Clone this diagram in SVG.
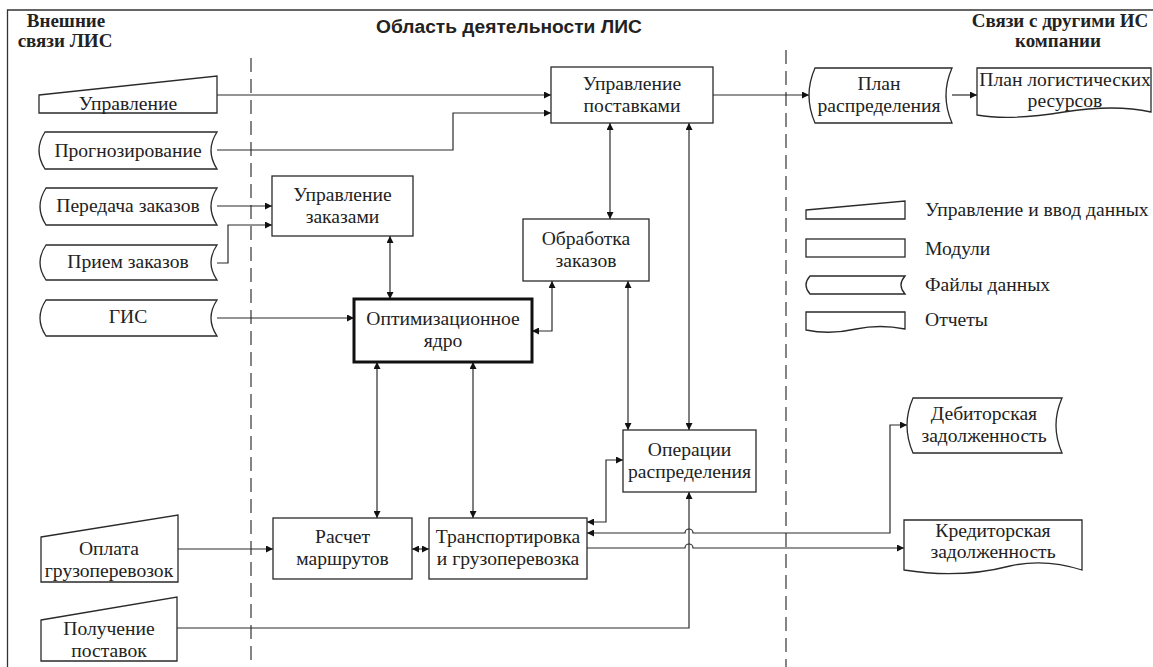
<svg xmlns="http://www.w3.org/2000/svg" width="1153" height="667" viewBox="0 0 1153 667" font-family="'Liberation Serif', 'DejaVu Serif', serif">
<style>
.shape{fill:#fff;stroke:#2a2a2a;stroke-width:1.3}
.bold{fill:#fff;stroke:#111;stroke-width:3}
text{font-family:'Liberation Serif','DejaVu Serif',serif}
.t{font-size:19.6px;fill:#222;text-anchor:middle}
.lt{font-size:19.6px;fill:#222}
.hb{font-size:19px;font-weight:bold;fill:#222;text-anchor:middle}
text.hs{font-family:'Liberation Sans','DejaVu Sans',sans-serif;font-size:19.2px;font-weight:bold;fill:#222}
.c{fill:none;stroke:#2a2a2a;stroke-width:1.2}
.dash{fill:none;stroke:#444;stroke-width:1.3;stroke-dasharray:14 7}
</style>
<defs>
<marker id="ah" viewBox="0 0 10 10" refX="10" refY="5" markerWidth="9" markerHeight="7" markerUnits="userSpaceOnUse" orient="auto-start-reverse">
<path d="M0,0 L10,5 L0,10 z" fill="#111"/>
</marker>
</defs>
<rect width="1153" height="667" fill="#fff"/>
<path d="M7.5,667 V10 H1153" fill="none" stroke="#333" stroke-width="1.3"/>
<g id="headers">
<text class="hb" x="66" y="27">Внешние</text>
<text class="hb" x="65" y="47">связи ЛИС</text>
<text class="hs" x="376" y="33">Область деятельности ЛИС</text>
<text class="hb" x="1060" y="27">Связи с другими ИС</text>
<text class="hb" x="1058" y="47">компании</text>
</g>
<g id="boundaries">
<line class="dash" x1="251" y1="58" x2="251" y2="667"/>
<line class="dash" x1="786" y1="50" x2="786" y2="667"/>
</g>
<g id="connectors" marker-end="url(#ah)">
<path class="c" d="M217,95 H551"/>
<path class="c" d="M217,150 H453 V113 H551"/>
<path class="c" d="M713,95 H809"/>
<path class="c" d="M952,95 H977"/>
<path class="c" d="M217,206 H272"/>
<path class="c" d="M217,263 H228 V225 H272"/>
<path class="c" d="M217,318 H354"/>
<path class="c" d="M390,236 V299" marker-start="url(#ah)"/>
<path class="c" d="M610,123 V219" marker-start="url(#ah)"/>
<path class="c" d="M689,123 V430" marker-start="url(#ah)"/>
<path class="c" d="M552,281 V331 H532" marker-start="url(#ah)"/>
<path class="c" d="M628,281 V430" marker-start="url(#ah)"/>
<path class="c" d="M377,362 V518" marker-start="url(#ah)"/>
<path class="c" d="M473,362 V518" marker-start="url(#ah)"/>
<path class="c" d="M412,549 H429" marker-start="url(#ah)"/>
<path class="c" d="M178,549 H273"/>
<path class="c" d="M587,522 H606 V460 H623" marker-start="url(#ah)"/>
<path class="c" d="M587,533 H685 A4,4 0 0 1 693,533 H890 V425 H907" marker-start="url(#ah)"/>
<path class="c" d="M587,548 H685 A4,4 0 0 1 693,548 H904"/>
<path class="c" d="M177,628 H689 V492"/>
</g>
<g id="n-upravlenie">
<path class="shape" d="M39,95 L217,76 L217,113 L39,113 Z"/>
<text class="t" x="128" y="110">Управление</text>
</g>
<g id="n-prognoz">
<path class="shape" d="M45,132 H217 Q205,150.5 217,169 H45 Q33,150.5 45,132 Z"/>
<text class="t" x="128" y="157">Прогнозирование</text>
</g>
<g id="n-peredacha">
<path class="shape" d="M46,188 H217 Q205,206.5 217,225 H46 Q34,206.5 46,188 Z"/>
<text class="t" x="128" y="212">Передача заказов</text>
</g>
<g id="n-priem">
<path class="shape" d="M46,245 H217 Q205,262.5 217,280 H46 Q34,262.5 46,245 Z"/>
<text class="t" x="128" y="268">Прием заказов</text>
</g>
<g id="n-gis">
<path class="shape" d="M46,300 H217 Q205,318 217,336 H46 Q34,318 46,300 Z"/>
<text class="t" x="128" y="323">ГИС</text>
</g>
<g id="n-oplata">
<path class="shape" d="M41,537 L178,515 L178,582 L41,582 Z"/>
<text class="t" x="109" y="555">Оплата</text>
<text class="t" x="109" y="577">грузоперевозок</text>
</g>
<g id="n-poluchenie">
<path class="shape" d="M41,620 L177,597 L177,661 L41,661 Z"/>
<text class="t" x="109" y="635">Получение</text>
<text class="t" x="109" y="657">поставок</text>
</g>
<g id="n-upr-postavkami">
<rect class="shape" x="551" y="67" width="162" height="56"/>
<text class="t" x="632" y="90">Управление</text>
<text class="t" x="632" y="112">поставками</text>
</g>
<g id="n-upr-zakazami">
<rect class="shape" x="272" y="176" width="141" height="60"/>
<text class="t" x="342.5" y="201">Управление</text>
<text class="t" x="342.5" y="223">заказами</text>
</g>
<g id="n-obrabotka">
<rect class="shape" x="523" y="219" width="126" height="62"/>
<text class="t" x="586" y="245">Обработка</text>
<text class="t" x="586" y="267">заказов</text>
</g>
<g id="n-yadro">
<rect class="bold" x="354" y="299" width="178" height="63"/>
<text class="t" x="443" y="325">Оптимизационное</text>
<text class="t" x="443" y="347">ядро</text>
</g>
<g id="n-operacii">
<rect class="shape" x="623" y="430" width="133" height="62"/>
<text class="t" x="689.5" y="456">Операции</text>
<text class="t" x="689.5" y="478">распределения</text>
</g>
<g id="n-raschet">
<rect class="shape" x="273" y="518" width="139" height="61"/>
<text class="t" x="342.5" y="543">Расчет</text>
<text class="t" x="342.5" y="565">маршрутов</text>
</g>
<g id="n-transport">
<rect class="shape" x="429" y="518" width="158" height="61"/>
<text class="t" x="508" y="543">Транспортировка</text>
<text class="t" x="508" y="565">и грузоперевозка</text>
</g>
<g id="n-plan-raspr">
<path class="shape" d="M815,68 H952 Q940,95.5 952,123 H815 Q803,95.5 815,68 Z"/>
<text class="t" x="879" y="90">План</text>
<text class="t" x="879" y="112">распределения</text>
</g>
<g id="n-plan-log">
<path class="shape" d="M977,68 H1151 V112 Q1115,104 1064,112 Q1010,121 977,115 Z"/>
<text class="t" x="1065" y="86">План логистических</text>
<text class="t" x="1065" y="107">ресурсов</text>
</g>
<g id="n-debitor">
<path class="shape" d="M913,398 H1062 Q1050,425.5 1062,453 H913 Q901,425.5 913,398 Z"/>
<text class="t" x="984" y="420">Дебиторская</text>
<text class="t" x="984" y="442">задолженность</text>
</g>
<g id="n-kreditor">
<path class="shape" d="M904,520 H1082 V570 Q1045,558 1010,566 Q960,579 904,570 Z"/>
<text class="t" x="993" y="537">Кредиторская</text>
<text class="t" x="993" y="558">задолженность</text>
</g>
<g id="legend">
<path class="shape" d="M806,210 L905,201 L905,219 L806,219 Z"/>
<text class="lt" x="925" y="216">Управление и ввод данных</text>
<rect class="shape" x="806" y="239" width="99" height="18"/>
<text class="lt" x="925" y="255">Модули</text>
<path class="shape" d="M810,276 H905 Q897,285 905,294 H810 Q802,285 810,276 Z"/>
<text class="lt" x="925" y="291">Файлы данных</text>
<path class="shape" d="M806,312 H905 V329 Q880,324 856,329 Q830,335 806,330 Z"/>
<text class="lt" x="925" y="326">Отчеты</text>
</g>
</svg>
